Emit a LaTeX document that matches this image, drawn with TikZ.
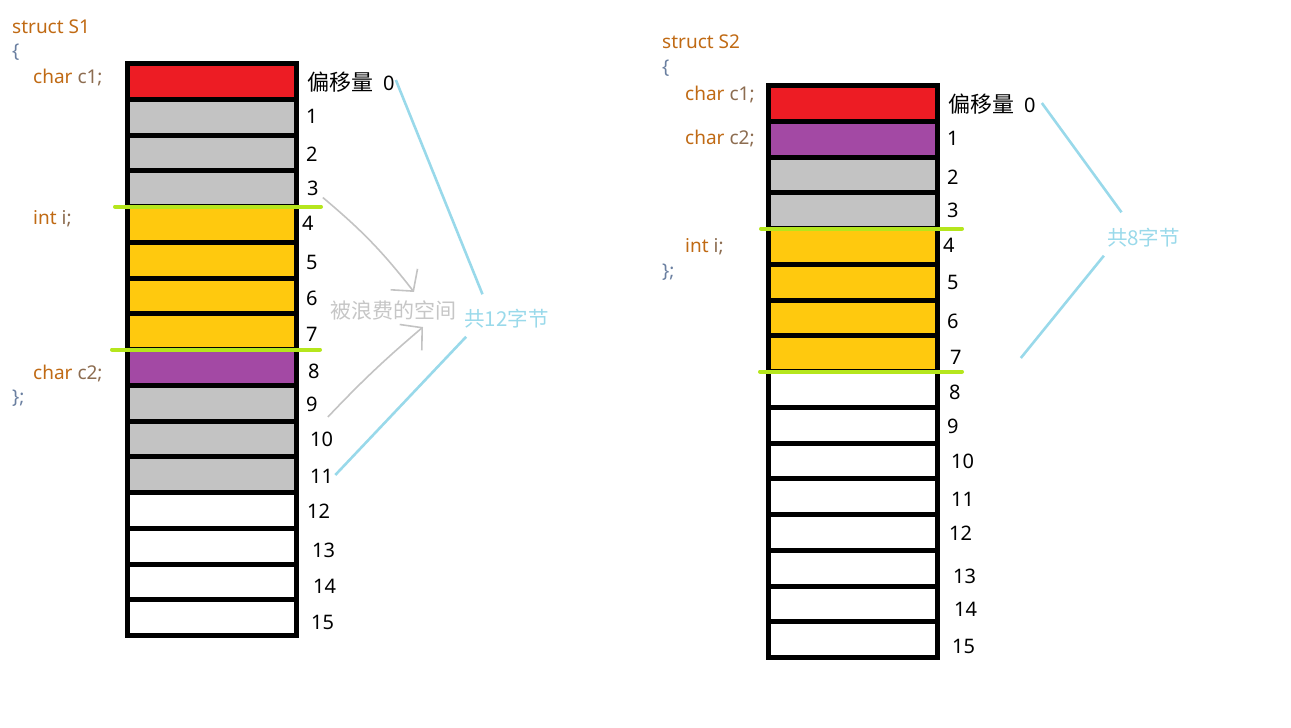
\documentclass[tikz,border=0pt]{standalone}
\usepackage{fontspec}
\setmainfont{Noto Sans}
\newfontfamily\cjk{Noto Sans CJK SC}
\usetikzlibrary{arrows.meta,positioning,calc}
\definecolor{memred}{HTML}{ED1C24}
\definecolor{mempurple}{HTML}{A349A4}
\definecolor{memgray}{HTML}{C3C3C3}
\definecolor{memyellow}{HTML}{FFC90E}
\definecolor{lime}{HTML}{B5E61D}
\definecolor{sky}{HTML}{99D9EA}
\definecolor{kw}{HTML}{C06A14}
\definecolor{ident}{HTML}{8C6C50}
\definecolor{brace}{HTML}{6A7FA0}
\definecolor{waste}{HTML}{C6C6C6}

\begin{document}
\begin{tikzpicture}[x=1pt,y=-1pt,
    cell/.style={draw,line width=5pt,minimum width=168.5pt,minimum height=35.75pt,inner sep=0pt,outer sep=0pt},
    offs/.style={anchor=west,inner sep=0pt,font=\fontsize{20}{24}\selectfont},
    code/.style={anchor=base west,inner sep=0pt,font=\fontsize{19}{23}\selectfont},
    bound/.style={draw=lime,line width=4pt,line cap=round},
    span/.style={draw=sky,line width=2.6pt},
    hand/.style={draw=memgray,line width=1.6pt,-{Straight Barb[length=15pt,width=34pt,line width=1.6pt]}},
    note/.style={inner sep=0pt,font=\cjk\fontsize{20.5}{24}\selectfont}]
  \useasboundingbox (0,0) rectangle (1291,728);

  % struct S1
  \node[code] (s1) at (12,33) {\textcolor{kw}{struct S1}};
  \node[code] (s1o) at (12,57) {\textcolor{brace}{\{}};
  \node[code] (s1a) at (33,83) {\textcolor{kw}{char} \textcolor{ident}{c1;}};
  \node[code] (s1b) at (33,224) {\textcolor{kw}{int} \textcolor{ident}{i;}};
  \node[code] (s1c) at (33,379) {\textcolor{kw}{char} \textcolor{ident}{c2;}};
  \node[code] (s1e) at (12,403) {\textcolor{brace}{\};}};

  \foreach \c [count=\i from 0] in {memred,memgray,memgray,memgray,memyellow,memyellow,memyellow,memyellow,
      mempurple,memgray,memgray,memgray,white,white,white,white}
    \node[cell,fill=\c] (L\i) at (211.75,{81.375+35.75*\i}) {};

  \draw[bound] ($(L4.north west)+(-12.5,0)$) -- ($(L4.north east)+(25,0)$);
  \draw[bound] ($(L8.north west)+(-15.5,0)$) -- ($(L8.north east)+(24,0)$);

  \node[offs] (l0) at (307,82) {{\cjk\fontsize{22}{26}\selectfont 偏移量}\hspace{10pt}0};
  \foreach \n/\x/\y in {1/306/116,2/306/154,3/307/188,4/302/223,5/306/262,6/306/298,7/306/334,
      8/308/371,9/306/404,10/310/439,11/310/476,12/307/511,13/312/550,14/313/586,15/311/622}
    \node[offs] (l\n) at (\x,\y) {\n};

  \node[note,text=waste,font=\cjk\fontsize{21}{24}\selectfont] (lost) at (393,311) {被浪费的空间};
  \node[note,text=sky] (sumL) at (506.5,319) {共12字节};

  \draw[hand] ($(l3.south east)+(4,2)$) to[bend left=6] ($(lost.north)+(21,-9)$);
  \draw[hand] ($(l9.east)+(10,13)$) to[bend left=3] ($(lost.south)+(30,6)$);

  \draw[span] ($(l0.east)+(1,-2)$) -- ($(sumL.north)+(-24,-15)$);
  \draw[span] ($(sumL.south west)+(2,8)$) -- ($(l11.east)+(2,-1)$);

  % struct S2
  \node[code] (s2) at (662,48) {\textcolor{kw}{struct S2}};
  \node[code] (s2o) at (662,73) {\textcolor{brace}{\{}};
  \node[code] (s2a) at (685,100) {\textcolor{kw}{char} \textcolor{ident}{c1;}};
  \node[code] (s2b) at (685,144) {\textcolor{kw}{char} \textcolor{ident}{c2;}};
  \node[code] (s2c) at (685,252) {\textcolor{kw}{int} \textcolor{ident}{i;}};
  \node[code] (s2e) at (662,277) {\textcolor{brace}{\};}};

  \foreach \c [count=\i from 0] in {memred,mempurple,memgray,memgray,memyellow,memyellow,memyellow,memyellow,
      white,white,white,white,white,white,white,white}
    \node[cell,fill=\c,minimum width=169pt] (R\i) at (853,{103.375+35.75*\i}) {};

  \draw[bound] ($(R4.north west)+(-7.5,0)$) -- ($(R4.north east)+(24.5,0)$);
  \draw[bound] ($(R8.north west)+(-8.5,0)$) -- ($(R8.north east)+(24.5,0)$);

  \node[offs] (r0) at (948,104) {{\cjk\fontsize{22}{26}\selectfont 偏移量}\hspace{10pt}0};
  \foreach \n/\x/\y in {1/947/138,2/947/177,3/947/210,4/943/245,5/947/282,6/947/321,7/950/357,
      8/949/392,9/947/426,10/951/461,11/951/499,12/949/533,13/953/576,14/954/609,15/952/646}
    \node[offs] (r\n) at (\x,\y) {\n};

  \node[note,text=sky] (sumR) at (1143.5,238) {共8字节};

  \draw[span] ($(r0.east)+(6,-1)$) -- ($(sumR.north)+(-22,-16)$);
  \draw[span] ($(sumR.south west)+(-3,8)$) -- ($(r7.east)+(59,1)$);
\end{tikzpicture}
\end{document}
